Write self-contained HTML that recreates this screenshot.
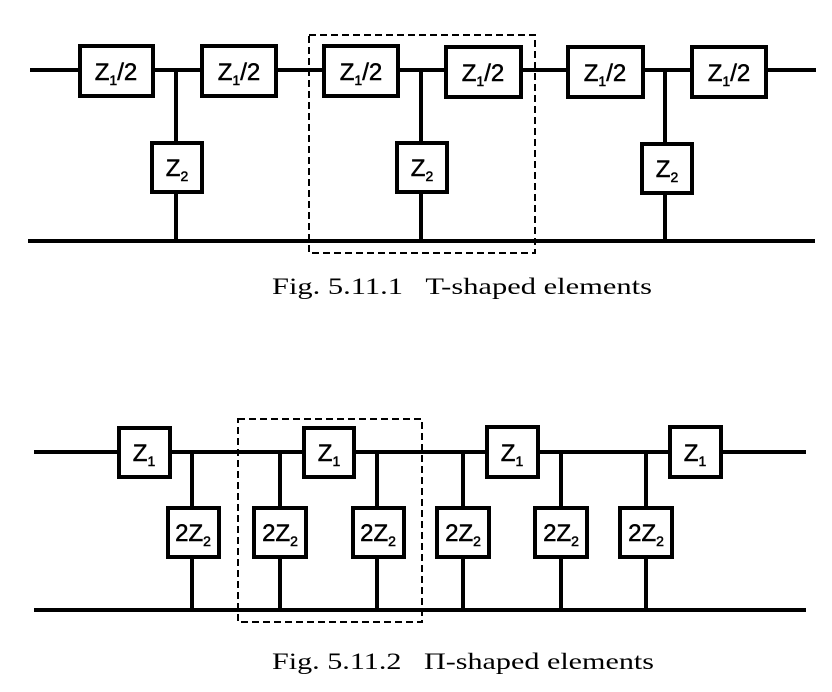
<!DOCTYPE html>
<html><head><meta charset="utf-8"><style>html,body{margin:0;padding:0;background:#fff}svg{display:block}text{white-space:pre}</style></head>
<body>
<svg width="832" height="692" viewBox="0 0 832 692" xmlns="http://www.w3.org/2000/svg">
<g stroke="#000" stroke-width="4" fill="none">
<line x1="30" y1="70" x2="816" y2="70"/>
<line x1="28" y1="241" x2="815" y2="241"/>
<line x1="176" y1="70" x2="176" y2="241"/>
<line x1="421" y1="70" x2="421" y2="241"/>
<line x1="665" y1="70" x2="665" y2="241"/>
<g fill="#fff">
<rect x="80" y="46" width="73" height="50"/>
<rect x="202" y="46" width="74" height="50"/>
<rect x="324" y="46" width="74" height="50"/>
<rect x="446" y="47" width="75" height="50"/>
<rect x="568" y="47" width="75" height="50"/>
<rect x="692" y="47" width="74" height="50"/>
<rect x="152" y="143" width="50" height="49"/>
<rect x="397" y="143" width="50" height="49"/>
<rect x="642" y="144" width="50" height="49"/>
</g>
<rect x="309" y="35" width="226" height="218" stroke-width="2" stroke-dasharray="7,4"/>
<line x1="34" y1="452" x2="806" y2="452"/>
<line x1="34" y1="610" x2="806" y2="610"/>
<line x1="192" y1="452" x2="192" y2="610"/>
<line x1="280" y1="452" x2="280" y2="610"/>
<line x1="377" y1="452" x2="377" y2="610"/>
<line x1="463" y1="452" x2="463" y2="610"/>
<line x1="561" y1="452" x2="561" y2="610"/>
<line x1="646" y1="452" x2="646" y2="610"/>
<g fill="#fff">
<rect x="119" y="428" width="51" height="49"/>
<rect x="304" y="428" width="50" height="49"/>
<rect x="487" y="427" width="51" height="50"/>
<rect x="670" y="427" width="51" height="50"/>
<rect x="168" y="508" width="51" height="49"/>
<rect x="254" y="508" width="52" height="49"/>
<rect x="353" y="508" width="51" height="49"/>
<rect x="437" y="508" width="52" height="49"/>
<rect x="535" y="508" width="52" height="49"/>
<rect x="620" y="508" width="52" height="49"/>
</g>
<rect x="238" y="419" width="184" height="203" stroke-width="2" stroke-dasharray="7,4"/>
</g>
<g font-family="Liberation Sans, sans-serif" font-size="24" text-anchor="middle" fill="#000" stroke="#000" stroke-width="0.5">
<text x="116" y="80">Z<tspan font-size="14" dy="5">1</tspan><tspan dy="-5">/2</tspan></text>
<text x="239" y="80">Z<tspan font-size="14" dy="5">1</tspan><tspan dy="-5">/2</tspan></text>
<text x="361" y="80">Z<tspan font-size="14" dy="5">1</tspan><tspan dy="-5">/2</tspan></text>
<text x="483" y="81">Z<tspan font-size="14" dy="5">1</tspan><tspan dy="-5">/2</tspan></text>
<text x="605" y="81">Z<tspan font-size="14" dy="5">1</tspan><tspan dy="-5">/2</tspan></text>
<text x="729" y="81">Z<tspan font-size="14" dy="5">1</tspan><tspan dy="-5">/2</tspan></text>
<text x="177" y="176">Z<tspan font-size="14" dy="5">2</tspan></text>
<text x="422" y="176">Z<tspan font-size="14" dy="5">2</tspan></text>
<text x="667" y="177">Z<tspan font-size="14" dy="5">2</tspan></text>
<text x="144" y="461">Z<tspan font-size="14" dy="5">1</tspan></text>
<text x="329" y="461">Z<tspan font-size="14" dy="5">1</tspan></text>
<text x="512" y="461">Z<tspan font-size="14" dy="5">1</tspan></text>
<text x="695" y="461">Z<tspan font-size="14" dy="5">1</tspan></text>
<text x="193" y="541">2Z<tspan font-size="14" dy="5">2</tspan></text>
<text x="280" y="541">2Z<tspan font-size="14" dy="5">2</tspan></text>
<text x="378" y="541">2Z<tspan font-size="14" dy="5">2</tspan></text>
<text x="463" y="541">2Z<tspan font-size="14" dy="5">2</tspan></text>
<text x="561" y="541">2Z<tspan font-size="14" dy="5">2</tspan></text>
<text x="646" y="541">2Z<tspan font-size="14" dy="5">2</tspan></text>
</g>
<g font-family="Liberation Serif, serif" font-size="23" fill="#000">
<text x="272" y="294" textLength="380" lengthAdjust="spacingAndGlyphs">Fig. 5.11.1   T-shaped elements</text>
<text x="272" y="669" textLength="382" lengthAdjust="spacingAndGlyphs">Fig. 5.11.2   Π-shaped elements</text>
</g>
</svg>
</body></html>
